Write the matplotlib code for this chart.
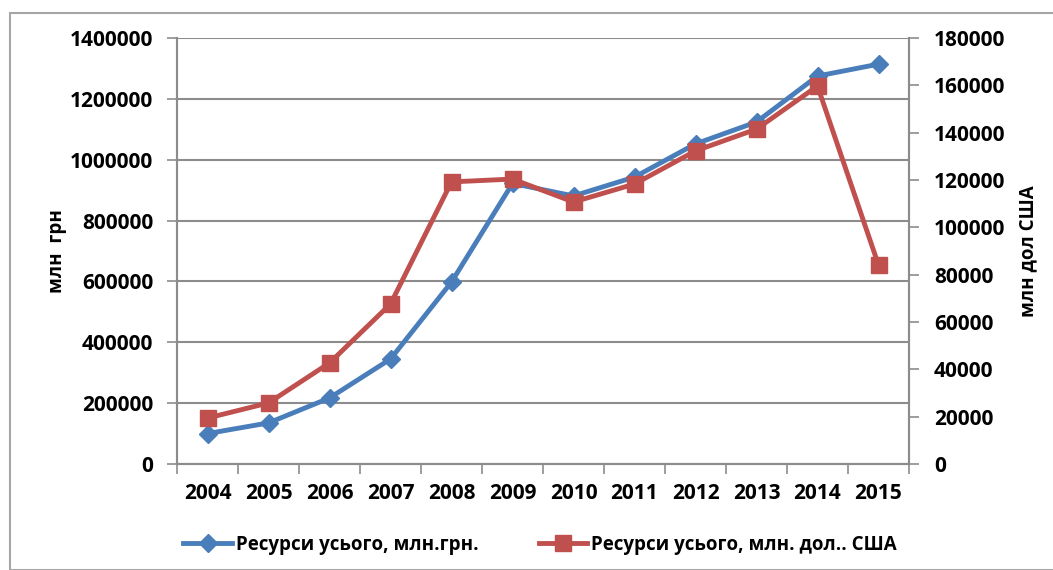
import numpy as np
import matplotlib.pyplot as plt
from matplotlib.patches import Rectangle
from matplotlib.lines import Line2D
from matplotlib.ticker import FormatStrFormatter

plt.rcParams['font.family'] = ['Open Sans', 'DejaVu Sans']
plt.rcParams['font.weight'] = 'bold'
plt.rcParams['axes.labelweight'] = 'bold'

years = ['2004', '2005', '2006', '2007', '2008', '2009',
         '2010', '2011', '2012', '2013', '2014', '2015']

# ресурси, млн грн (ліва вісь)
res_uah = [100000, 135000, 217000, 345000, 598000, 922000,
           881000, 943000, 1052000, 1124000, 1275000, 1314000]

# ресурси, млн дол США (права вісь)
res_usd = [19400, 25800, 42700, 67600, 119200, 120400,
           110700, 118300, 132300, 141500, 159700, 84100]

label_uah = 'Ресурси усього, млн.грн.'
label_usd = 'Ресурси усього, млн. дол.. США'

blue = '#4A7EBB'
red = '#C0504D'
grey = '#8C8C8C'
fs_tick = 15
fs = 13.5

fig = plt.figure(figsize=(10.53, 5.70), dpi=100)
fig.patches.append(Rectangle((10/1053, 0), 1.2, 1 - 13/570, transform=fig.transFigure,
                             fill=False, edgecolor='#A6A6A6', linewidth=1.5))

ax = fig.add_axes([177/1053, 1 - 464/570, 732/1053, 426/570])
ax2 = ax.twinx()

x = np.arange(len(years))

ax.plot(x, res_uah, color=blue, lw=3.5, marker='D', ms=9.5, zorder=3)
ax2.plot(x, res_usd, color=red, lw=3.5, marker='s', ms=12, zorder=3)

ax.set_xlim(-0.5, len(years) - 0.5)
ax.set_ylim(0, 1400000)
ax2.set_ylim(0, 180000)
ax.set_yticks(np.arange(0, 1400001, 200000))
ax2.set_yticks(np.arange(0, 180001, 20000))
ax.yaxis.set_major_formatter(FormatStrFormatter('%d'))
ax2.yaxis.set_major_formatter(FormatStrFormatter('%d'))

ax.set_xticks(x)
ax.set_xticklabels(years)
ax.set_xticks(np.arange(-0.5, len(years), 1), minor=True)
ax.tick_params(axis='x', which='major', length=0, pad=14, labelsize=fs_tick)
ax.tick_params(axis='x', which='minor', length=7, color=grey, width=1.2)

ax.tick_params(axis='y', length=7, color=grey, width=1.2, labelsize=fs_tick, pad=10)
ax2.tick_params(axis='y', length=7, color=grey, width=1.2, labelsize=fs_tick, pad=11)

ax.yaxis.grid(True, color=grey, lw=1.5)
ax.set_axisbelow(True)

for a in (ax, ax2):
    a.spines['top'].set_visible(False)
    for s in ('left', 'right', 'bottom'):
        a.spines[s].set_color(grey)
        a.spines[s].set_linewidth(1.5)

ax.set_ylabel('млн  грн', fontsize=fs, fontweight='bold', labelpad=2)
ax2.set_ylabel('млн дол США', fontsize=fs, fontweight='bold', labelpad=9)

handles = [Line2D([], [], color=blue, lw=3.5, marker='D', ms=9.5),
           Line2D([], [], color=red, lw=3.5, marker='s', ms=12)]
fig.legend(handles, [label_uah, label_usd], loc='center', bbox_to_anchor=(540/1053, 1 - 545/570),
           ncol=2, frameon=False, prop={'size': fs, 'weight': 'bold'},
           handlelength=2.6, handletextpad=0.2, columnspacing=3.2)

fig.savefig('out.png', dpi=100)
